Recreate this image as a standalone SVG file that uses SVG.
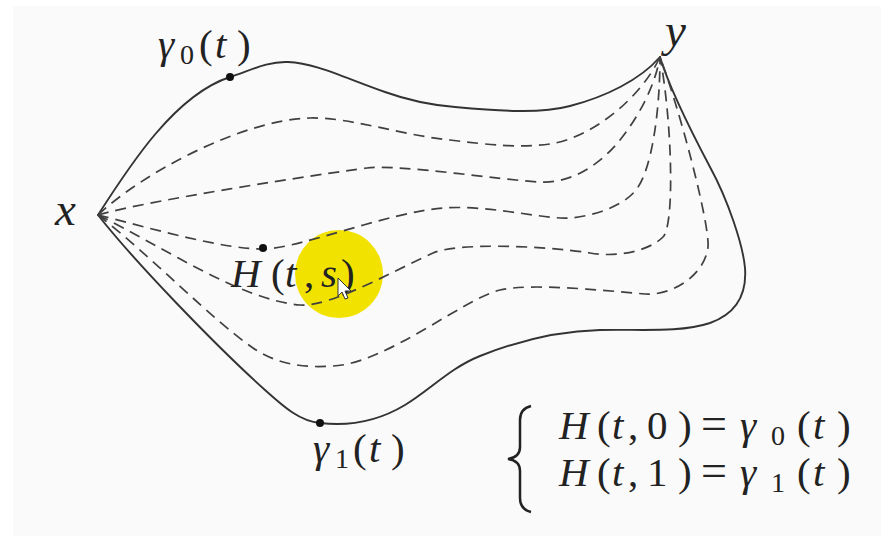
<svg xmlns="http://www.w3.org/2000/svg" width="886" height="536" viewBox="0 0 886 536">
<style>
.solid{fill:none;stroke:#333;stroke-width:1.9;stroke-linecap:round;stroke-linejoin:round}
.dash{fill:none;stroke:#404040;stroke-width:1.7;stroke-dasharray:11 7}
.dot{fill:#111}
</style>
<rect x="0" y="0" width="886" height="536" fill="#ffffff"/>
<rect x="13" y="6" width="868" height="530" fill="#fafafa"/>
<g id="highlight">
<circle cx="339" cy="274" r="44" fill="#f2e200"/>
</g>
<g id="connectors">
<path id="gamma0" class="solid" d="M98,215 C130,165 175,95 230,77 C250,70.5 268,61 288,62 C315,63 345,78 385,92 C410,101 430,105 455,107 C500,111 540,114 570,106 C605,97 640,80 660,57"/>
<path id="gamma1" class="solid" d="M98,215 C135,262 215,345 265,390 C285,408 300,421 320,423 C345,426 375,423 405,405 C430,390 450,368 480,356 C520,340 560,331 600,330 C640,329 680,333 710,323 C735,314 747,295 745,268 C743,245 728,200 710,167 C692,133 670,90 660,57"/>
<path id="h1" class="dash" d="M98,215 C140,175 240,120 310,118 C350,117 400,135 450,140 C490,145 520,148 550,144 C590,138 640,100 660,57"/>
<path id="h2" class="dash" d="M98,215 C150,200 320,174 367,168 C400,164 500,180 540,182 C570,184 600,165 620,140 C640,115 655,85 660,57"/>
<path id="h3" class="dash" d="M98,215 C150,228 225,250 265,249 C300,248 390,212 443,208 C483,205 530,216 560,218 C580,219.5 620,210 636,190 C652,170 660,110 660,57"/>
<path id="h4" class="dash" d="M98,215 C160,245 240,300 300,305 C330,307.5 395,270 433,253 C455,243 540,245 590,253 C620,258 650,250 663,237 C675,225 672,120 660,57"/>
<path id="h5" class="dash" d="M98,215 C150,255 210,318 253,348 C278,365 305,368 333,366 C385,364 465,298 500,290 C530,283 600,290 645,294 C672,296 705,275 708,247 C710,225 680,110 660,57"/>
</g>
<g id="node-x">
<text font-family="Liberation Serif, serif" font-size="47" font-style="italic" fill="#222" x="55" y="225">x</text>
</g>
<g id="node-y">
<text font-family="Liberation Serif, serif" font-size="47" font-style="italic" fill="#222" x="665" y="46">y</text>
</g>
<g id="point-gamma0">
<circle class="dot" cx="230" cy="77" r="4"/>
<text font-family="Liberation Serif, serif" font-size="41" fill="#222" y="58"><tspan x="158" font-style="italic">γ</tspan><tspan x="180" dy="6" font-size="28">0</tspan><tspan x="199" dy="-6">(</tspan><tspan x="215" font-style="italic">t</tspan><tspan x="237">)</tspan></text>
</g>
<g id="point-H">
<circle class="dot" cx="263" cy="248" r="4"/>
<text font-family="Liberation Serif, serif" font-size="41" fill="#222" y="287"><tspan x="231" font-style="italic">H</tspan><tspan x="271">(</tspan><tspan x="285" font-style="italic">t</tspan><tspan x="304">,</tspan><tspan x="321" font-style="italic">s</tspan><tspan x="341">)</tspan></text>
</g>
<g id="point-gamma1">
<circle class="dot" cx="320" cy="423" r="4"/>
<text font-family="Liberation Serif, serif" font-size="41" fill="#222" y="462"><tspan x="313" font-style="italic">γ</tspan><tspan x="335" dy="6" font-size="28">1</tspan><tspan x="353" dy="-6">(</tspan><tspan x="369" font-style="italic">t</tspan><tspan x="391">)</tspan></text>
</g>
<g id="cursor">
<path d="M338,278 L338,296 L342,292 L345,299 L348,298 L345,291 L351,291 Z" fill="#ffffff" stroke="#333" stroke-width="1"/>
</g>
<g id="equations">
<path d="M531,406 C523,408 520,413 520,420 L520,447 C520,454 515,458 508,459 C515,460 520,464 520,471 L520,498 C520,505 523,510 531,512" fill="none" stroke="#222" stroke-width="2.5"/>
<text font-family="Liberation Serif, serif" font-size="41" fill="#222" y="439"><tspan x="559" font-style="italic">H</tspan><tspan x="597">(</tspan><tspan x="612" font-style="italic">t</tspan><tspan x="628">,</tspan><tspan x="647">0</tspan><tspan x="678">)</tspan><tspan x="701" font-size="46">=</tspan><tspan x="740" font-style="italic">γ</tspan><tspan x="771" dy="6" font-size="28">0</tspan><tspan x="797" dy="-6">(</tspan><tspan x="813" font-style="italic">t</tspan><tspan x="837">)</tspan></text>
<text font-family="Liberation Serif, serif" font-size="41" fill="#222" y="486"><tspan x="559" font-style="italic">H</tspan><tspan x="597">(</tspan><tspan x="612" font-style="italic">t</tspan><tspan x="628">,</tspan><tspan x="647">1</tspan><tspan x="678">)</tspan><tspan x="701" font-size="46">=</tspan><tspan x="740" font-style="italic">γ</tspan><tspan x="771" dy="6" font-size="28">1</tspan><tspan x="797" dy="-6">(</tspan><tspan x="813" font-style="italic">t</tspan><tspan x="837">)</tspan></text>
</g>
</svg>
